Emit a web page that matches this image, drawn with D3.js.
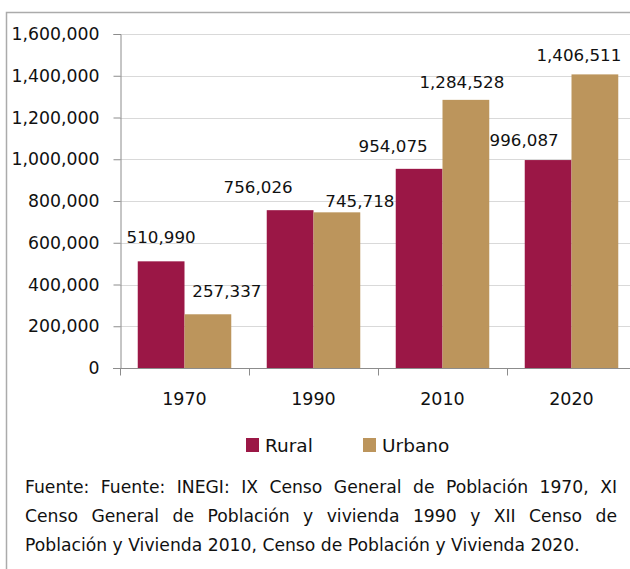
<!DOCTYPE html>
<html>
<head>
<meta charset="utf-8">
<script src="https://cdn.jsdelivr.net/npm/d3@7"></script>
<style>
  body { margin: 0; background: #fff; }
  svg { display: block; font-family: "DejaVu Sans", sans-serif; }
</style>
</head>
<body>
<script>
// chart data
var years = ["1970", "1990", "2010", "2020"];
var series = ["Rural", "Urbano"];
var rural = [510990, 756026, 954075, 996087];
var urbano = [257337, 745718, 1284528, 1406511];
var yTicks = [0, 200000, 400000, 600000, 800000, 1000000, 1200000, 1400000, 1600000];
var note = "Fuente: Fuente: INEGI: IX Censo General de Población 1970, XI Censo General de Población y vivienda 1990 y XII Censo de Población y Vivienda 2010, Censo de Población y Vivienda 2020.";

// label nudges (dx, dy) - labels were hand placed in the original
var nudgeRural = [[0, -1], [-32, 0], [-26, 0], [-24, 3]];
var nudgeUrbano = [[19, 0], [23, 12], [-4, 5], [-16, 4]];

var width = 630, height = 569;
var colors = { Rural: "#9b1746", Urbano: "#bc955c" };

var svg = d3.select("body").append("svg")
    .attr("width", width)
    .attr("height", height);

// frame
svg.append("path")
    .attr("d", "M6.5," + height + "V12.5H" + width)
    .attr("fill", "none")
    .attr("stroke", "#ababab")
    .attr("stroke-width", 1.5);

var x0 = d3.scaleBand().domain(years).range([120, 636]).paddingInner(0.275).paddingOuter(0.1375);
var x1 = d3.scaleBand().domain(series).range([0, x0.bandwidth()]);
var y = d3.scaleLinear().domain([0, 1600000]).range([368, 34]);

// gridlines
svg.append("g").selectAll("line")
    .data(yTicks.slice(1))
    .enter().append("line")
    .attr("x1", 120).attr("x2", width)
    .attr("y1", function(d){ return Math.round(y(d)) + 0.5; })
    .attr("y2", function(d){ return Math.round(y(d)) + 0.5; })
    .attr("stroke", "#d9d9d9")
    .attr("stroke-width", 1.2);

// y axis
var yAxis = svg.append("g")
    .attr("transform", "translate(120.5,0)")
    .call(d3.axisLeft(y).tickValues(yTicks).tickSize(7).tickPadding(14).tickFormat(d3.format(",")));
yAxis.select(".domain").attr("stroke", "#8c8c8c");
yAxis.selectAll(".tick line").attr("stroke", "#8c8c8c");
yAxis.selectAll("text").attr("font-size", 17.3).attr("fill", "#111").attr("font-family", "DejaVu Sans");

// bars
var rows = years.map(function(yr, i){ return { year: yr, Rural: rural[i], Urbano: urbano[i] }; });
var groups = svg.append("g").selectAll("g")
    .data(rows)
    .enter().append("g")
    .attr("transform", function(d){ return "translate(" + x0(d.year) + ",0)"; });

groups.selectAll("rect")
    .data(function(d){ return series.map(function(s){ return { key: s, value: d[s] }; }); })
    .enter().append("rect")
    .attr("x", function(d){ return x1(d.key); })
    .attr("width", x1.bandwidth())
    .attr("y", function(d){ return y(d.value); })
    .attr("height", function(d){ return y(0) - y(d.value); })
    .attr("fill", function(d){ return colors[d.key]; });

// x axis
var xAxis = svg.append("g")
    .attr("transform", "translate(0,368.5)");
xAxis.append("line").attr("x1", 113).attr("x2", width).attr("stroke", "#8c8c8c");
xAxis.selectAll(".xt")
    .data([0, 1, 2, 3, 4])
    .enter().append("line")
    .attr("x1", function(d){ return Math.round(120 + d * x0.step()) + 0.5; })
    .attr("x2", function(d){ return Math.round(120 + d * x0.step()) + 0.5; })
    .attr("y1", 0).attr("y2", 7)
    .attr("stroke", "#8c8c8c");
xAxis.selectAll("text")
    .data(years)
    .enter().append("text")
    .attr("x", function(d){ return x0(d) + x0.bandwidth() / 2; })
    .attr("y", 36.5)
    .attr("text-anchor", "middle")
    .attr("font-size", 17.5)
    .attr("fill", "#111")
    .text(function(d){ return d; });

// value labels
var fmt = d3.format(",");
function addLabels(vals, key, nudge){
    svg.append("g").selectAll("text")
        .data(vals)
        .enter().append("text")
        .attr("x", function(d, i){ return x0(years[i]) + x1(key) + x1.bandwidth() / 2 + nudge[i][0]; })
        .attr("y", function(d, i){ return y(d) - 17 + nudge[i][1]; })
        .attr("text-anchor", "middle")
        .attr("font-size", 16.7)
        .attr("fill", "#111")
        .text(function(d){ return fmt(d); });
}
addLabels(rural, "Rural", nudgeRural);
addLabels(urbano, "Urbano", nudgeUrbano);

// legend
var legend = svg.append("g").selectAll("g")
    .data(series)
    .enter().append("g")
    .attr("transform", function(d, i){ return "translate(" + (246 + i * 117) + ",438)"; });
legend.append("rect").attr("width", 13).attr("height", 14)
    .attr("fill", function(d){ return colors[d]; });
legend.append("text").attr("x", 19).attr("y", 14)
    .attr("font-size", 18.5)
    .attr("fill", "#111")
    .text(function(d){ return d; });

// source note, justified like the original
var noteSize = 17.2;
var words = note.split(" ");
var lineBreaks = [10, 21, words.length];
var left = 25, right = 617, lineY = [493, 522, 551];
var start = 0;
lineBreaks.forEach(function(end, li){
    var lw = words.slice(start, end);
    var g = svg.append("g");
    var texts = lw.map(function(w){
        return g.append("text").attr("y", lineY[li]).attr("font-size", noteSize)
            .attr("fill", "#111").text(w);
    });
    var widths = texts.map(function(t){ return t.node().getComputedTextLength(); });
    var total = d3.sum(widths);
    var spaceW = noteSize * 0.318;
    var gap = li < lineBreaks.length - 1 ? (right - left - total) / (lw.length - 1) : spaceW;
    var xx = left;
    texts.forEach(function(t, k){ t.attr("x", xx); xx += widths[k] + gap; });
    start = end;
});
</script>
</body>
</html>
